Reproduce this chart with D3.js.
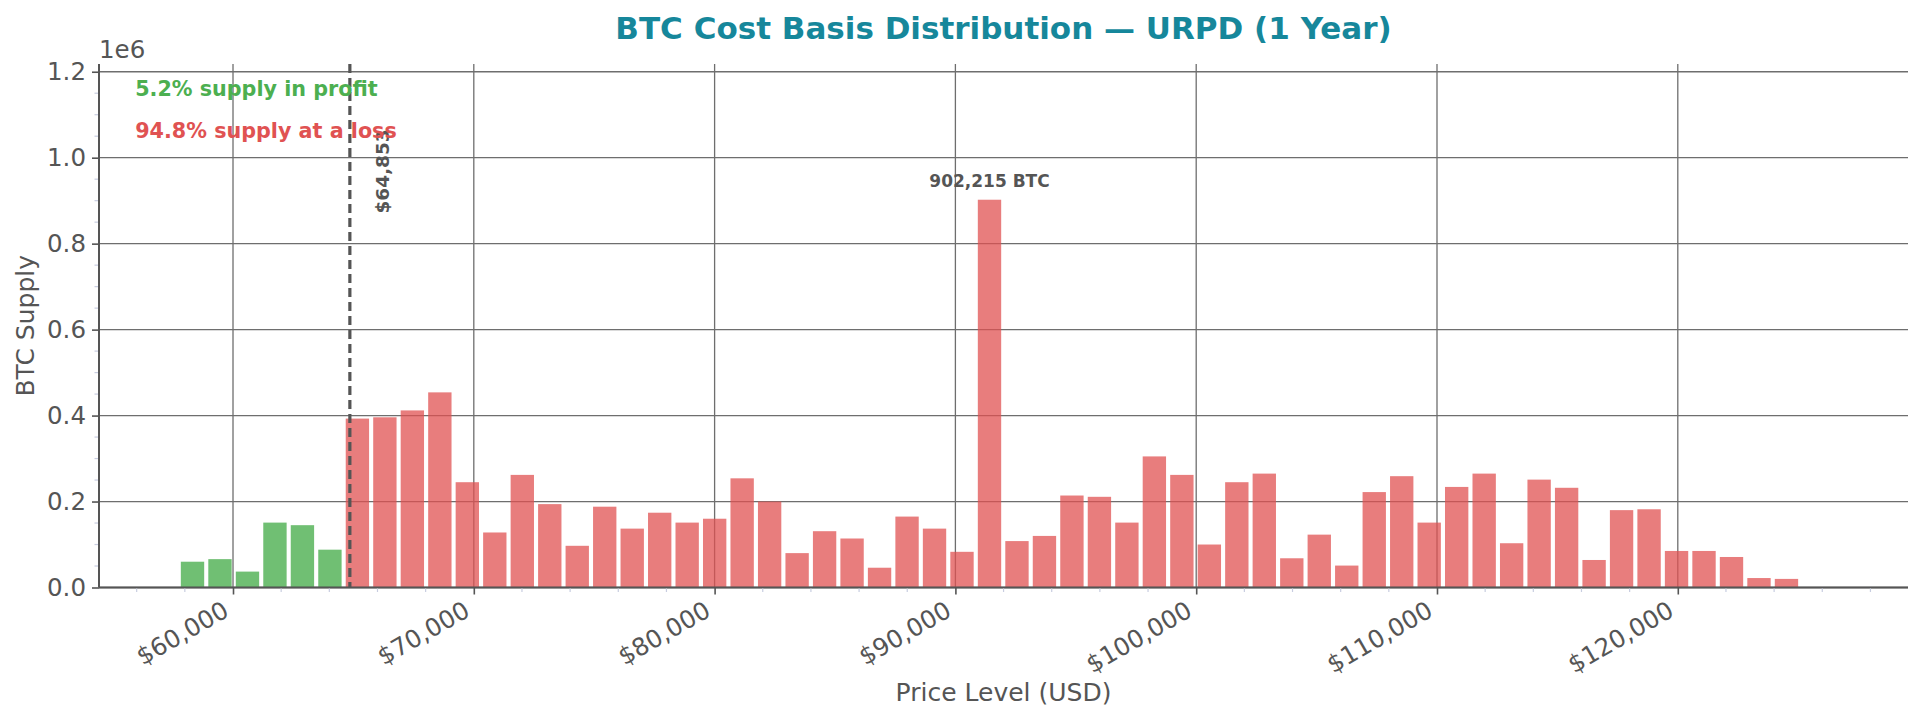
<!DOCTYPE html>
<html>
<head>
<meta charset="utf-8">
<script src="https://cdn.jsdelivr.net/npm/d3@7"></script>
<style>
  html, body { margin: 0; padding: 0; background: #fff; }
  svg { display: block; font-family: "DejaVu Sans", sans-serif; }
</style>
</head>
<body>
<div id="chart"></div>
<script>
// URPD bins: price level (bin centre, USD) and BTC supply held there
const binPrices = [
  58318, 59459, 60601, 61742, 62883, 64025, 65166, 66307, 67448, 68590,
  69731, 70872, 72014, 73155, 74296, 75437, 76579, 77720, 78861, 80003,
  81144, 82285, 83427, 84568, 85709, 86850, 87992, 89133, 90274, 91416,
  92557, 93698, 94839, 95981, 97122, 98263, 99405, 100546, 101687, 102828,
  103970, 105111, 106252, 107394, 108535, 109676, 110817, 111959, 113100, 114241,
  115383, 116524, 117665, 118807, 119948, 121089, 122230, 123372, 124513
];
const binSupply = [
  60000, 66000, 37000, 151000, 145000, 88000, 393000, 396000, 412000, 454000,
  245000, 128000, 262000, 194000, 97000, 188000, 137000, 174000, 151000, 160000,
  254000, 200000, 80000, 131000, 114000, 46000, 165000, 137000, 83000, 902215,
  108000, 120000, 214000, 211000, 151000, 305000, 262000, 100000, 245000, 265000,
  68000, 123000, 51000, 222000, 259000, 151000, 234000, 265000, 103000, 251000,
  232000, 64000, 180000, 182000, 85000, 85000, 71000, 22000, 20000
];
const currentPrice = 64853;
const binWidth = 1141;
const xTickValues = [60000, 70000, 80000, 90000, 100000, 110000, 120000];
const yTickValues = [0, 200000, 400000, 600000, 800000, 1000000, 1200000];
const summaryLabels = ["5.2% supply in profit", "94.8% supply at a loss"];

const W = 1923, H = 719;
const margin = { top: 64, right: 15, bottom: 131.5, left: 99 };
const innerW = W - margin.left - margin.right;
const innerH = H - margin.top - margin.bottom;

const FONT = "DejaVu Sans";
const GREEN = "#4caf50", RED = "#e05252", GRAY = "#555";
const TICK_FS = 24.5;

const bins = binPrices.map((p, i) => ({ price: p, supply: binSupply[i] }));
const maxSupply = d3.max(binSupply);

const x = d3.scaleLinear().domain([54435, 129560]).range([0, innerW]);
const y = d3.scaleLinear().domain([0, maxSupply * 1.35]).range([innerH, 0]);

const svg = d3.select("#chart").append("svg")
    .attr("width", W).attr("height", H);
svg.append("rect").attr("width", W).attr("height", H).attr("fill", "#fff");

const g = svg.append("g").attr("transform", `translate(${margin.left},${margin.top})`);

// grid (major ticks only)
g.append("g").selectAll("line.gx")
    .data(xTickValues).join("line")
    .attr("x1", d => x(d)).attr("x2", d => x(d))
    .attr("y1", 0).attr("y2", innerH)
    .attr("stroke", "#6e6e6e").attr("stroke-width", 1.3);
g.append("g").selectAll("line.gy")
    .data(yTickValues).join("line")
    .attr("x1", 0).attr("x2", innerW)
    .attr("y1", d => y(d)).attr("y2", d => y(d))
    .attr("stroke", "#6e6e6e").attr("stroke-width", 1.3);

// bars: green below current price, red above
const barW = x(binWidth * 0.85) - x(0);
g.append("g").selectAll("rect")
    .data(bins).join("rect")
    .attr("x", d => x(d.price) - barW / 2)
    .attr("width", barW)
    .attr("y", d => y(d.supply))
    .attr("height", d => innerH - y(d.supply))
    .attr("fill", d => d.price < currentPrice ? GREEN : RED)
    .attr("fill-opacity", d => d.price < currentPrice ? 0.8 : 0.75);

// axes
const xAxis = d3.axisBottom(x).tickValues(xTickValues).tickSize(7).tickPadding(6)
    .tickFormat(d => "$" + d3.format(",")(d));
const xg = g.append("g").attr("transform", `translate(0,${innerH})`).call(xAxis)
    .attr("font-family", FONT);
// rotated 30deg, right edge of the box on the tick (matplotlib-like)
xg.selectAll("text")
    .attr("font-size", TICK_FS).attr("fill", GRAY)
    .attr("text-anchor", "end")
    .attr("x", 0).attr("y", -0.236 * TICK_FS).attr("dy", null)
    .attr("transform", `translate(0,${8 + 1.164 * TICK_FS * Math.cos(Math.PI / 6)}) rotate(-30)`);

const yAxis = d3.axisLeft(y).tickValues(yTickValues).tickSize(7).tickPadding(6)
    .tickFormat(d => (d / 1e6).toFixed(1));
const yg = g.append("g").call(yAxis).attr("font-family", FONT);
yg.selectAll("text").attr("font-size", TICK_FS).attr("fill", GRAY);

[xg, yg].forEach(a => {
    a.select(".domain").attr("stroke", GRAY).attr("stroke-width", 2);
    a.selectAll(".tick line").attr("stroke", GRAY).attr("stroke-width", 1.6);
});
xg.select(".domain").attr("d", `M0,0H${innerW}`);
yg.select(".domain").attr("d", `M0,0V${innerH}`);

// minor ticks
g.append("g").selectAll("line")
    .data(d3.range(56000, 129000, 2000).filter(v => v % 10000 !== 0)).join("line")
    .attr("x1", d => x(d)).attr("x2", d => x(d))
    .attr("y1", innerH + 1).attr("y2", innerH + 4.5)
    .attr("stroke", "#c8cde0").attr("stroke-width", 1.2);
g.append("g").selectAll("line")
    .data(d3.range(50000, 1200000, 50000).filter(v => v % 200000 !== 0)).join("line")
    .attr("x1", -1).attr("x2", -4.5)
    .attr("y1", d => y(d)).attr("y2", d => y(d))
    .attr("stroke", "#c8cde0").attr("stroke-width", 1.2);

// offset text
g.append("text").attr("x", 0).attr("y", -6)
    .attr("font-size", TICK_FS).attr("fill", GRAY).text("1e6");

// current price marker
g.append("line")
    .attr("x1", x(currentPrice)).attr("x2", x(currentPrice))
    .attr("y1", 0).attr("y2", innerH)
    .attr("stroke", GRAY).attr("stroke-width", 3.2)
    .attr("stroke-dasharray", "9,5");
g.append("text")
    .attr("transform", `translate(${x(currentPrice) + 33},${y(1066000)}) rotate(-90)`)
    .attr("text-anchor", "end").attr("dominant-baseline", "central")
    .attr("font-size", 18.5).attr("font-weight", "bold").attr("fill", GRAY)
    .text("$" + d3.format(",")(currentPrice));

// peak label
const peak = bins.find(d => d.supply === maxSupply);
g.append("text")
    .attr("x", x(peak.price)).attr("y", y(peak.supply) - 13)
    .attr("text-anchor", "middle")
    .attr("font-size", 17).attr("font-weight", "bold").attr("fill", GRAY)
    .text(d3.format(",")(peak.supply) + " BTC");

// profit / loss summary
g.append("text").attr("x", innerW * 0.02).attr("y", 32)
    .attr("font-size", 20.7).attr("font-weight", "bold").attr("fill", GREEN)
    .text(summaryLabels[0]);
g.append("text").attr("x", innerW * 0.02).attr("y", 74)
    .attr("font-size", 20.7).attr("font-weight", "bold").attr("fill", RED)
    .text(summaryLabels[1]);

// titles
svg.append("text").attr("x", margin.left + innerW / 2).attr("y", 39)
    .attr("text-anchor", "middle")
    .attr("font-size", 31).attr("font-weight", "bold").attr("fill", "#16879b")
    .text("BTC Cost Basis Distribution \u2014 URPD (1 Year)");
svg.append("text").attr("x", margin.left + innerW / 2).attr("y", 701)
    .attr("text-anchor", "middle")
    .attr("font-size", 25).attr("fill", GRAY)
    .text("Price Level (USD)");
svg.append("text")
    .attr("transform", `translate(34,${margin.top + innerH / 2}) rotate(-90)`)
    .attr("text-anchor", "middle")
    .attr("font-size", 25).attr("fill", GRAY)
    .text("BTC Supply");
</script>
</body>
</html>
